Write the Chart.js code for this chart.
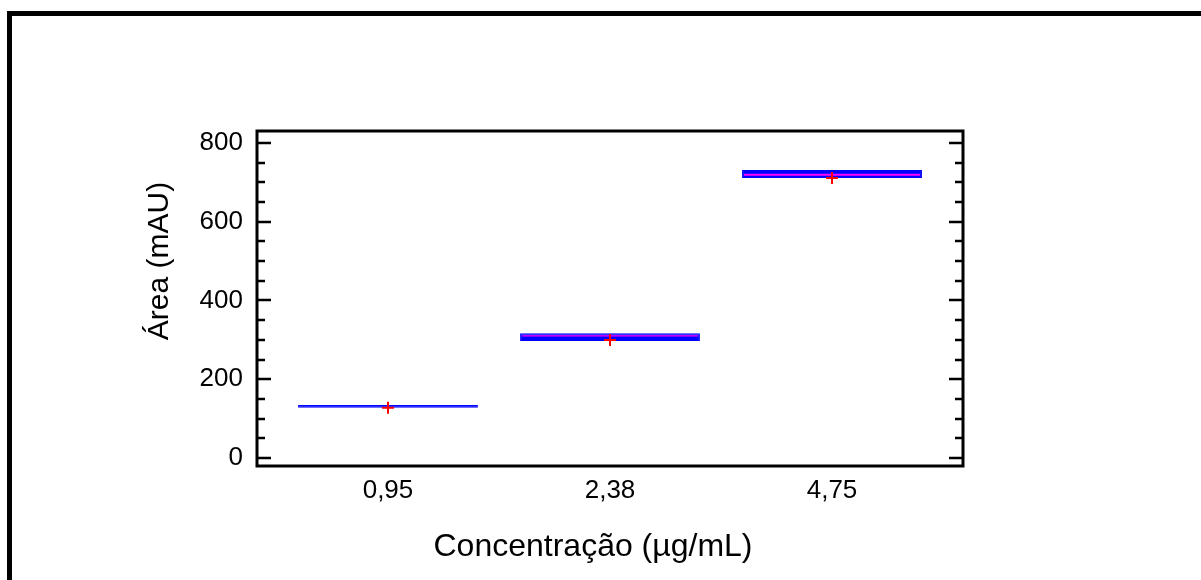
<!DOCTYPE html>
<html>
<head>
<meta charset="utf-8">
<script src="https://cdn.jsdelivr.net/npm/chart.js@4"></script>
<style>
  html, body { margin: 0; padding: 0; background: #fff; overflow: hidden; }
  #wrap { position: relative; width: 1201px; height: 580px; }
  #frame {
    position: absolute; left: 7px; top: 11px;
    width: 1400px; height: 800px;
    border: 5px solid #000; box-sizing: border-box;
  }
  canvas { position: absolute; left: 0; top: 0; }
</style>
</head>
<body>
<div id="wrap">
  <div id="frame"></div>
  <canvas id="chart" width="1201" height="580"></canvas>
</div>
<script>
/* ---------- data ---------- */
const categories = ["0,95", "2,38", "4,75"];
const boxLow    = [128, 297, 711];
const boxHigh   = [135, 317, 731];
const medians   = [132, 311, 719];
const means     = [128, 300, 711];
const yTicks    = [0, 200, 400, 600, 800];   // labelled ticks
const yMinor    = 50;                          // minor tick step
const xTitle    = "Concentração (µg/mL)";
const yTitle    = "Área (mAU)";

/* ---------- plugins ---------- */
// median lines, clipped to the inside of each box
const medianPlugin = {
  id: "medians",
  afterDatasetDraw(chart, args) {
    if (args.index !== 0) return;
    const ctx = chart.ctx;
    const y = chart.scales.y;
    const bw = 2;
    args.meta.data.forEach((bar, i) => {
      const top = Math.min(bar.y, bar.base) + bw;
      const bottom = Math.max(bar.y, bar.base) - bw;
      if (bottom <= top) return;
      const left = bar.x - bar.width / 2 + bw;
      const right = bar.x + bar.width / 2 - bw;
      const py = y.getPixelForValue(medians[i]);
      ctx.save();
      ctx.beginPath();
      ctx.rect(left, top, right - left, bottom - top);
      ctx.clip();
      ctx.strokeStyle = "#ff00ff";
      ctx.lineWidth = 2;
      ctx.beginPath();
      ctx.moveTo(left, py);
      ctx.lineTo(right, py);
      ctx.stroke();
      ctx.restore();
    });
  }
};

// plot frame, inward ticks on left and right, axis titles
const framePlugin = {
  id: "plotFrame",
  afterDraw(chart) {
    const ctx = chart.ctx;
    const a = chart.chartArea;
    const y = chart.scales.y;
    ctx.save();
    ctx.strokeStyle = "#000";
    ctx.lineWidth = 2.5;
    y.ticks.forEach(t => {
      const py = Math.round(y.getPixelForValue(t.value));
      const len = yTicks.includes(t.value) ? 14 : 8;
      ctx.beginPath();
      ctx.moveTo(a.left, py);
      ctx.lineTo(a.left + len, py);
      ctx.moveTo(a.right, py);
      ctx.lineTo(a.right - len, py);
      ctx.stroke();
    });
    ctx.lineWidth = 3;
    ctx.strokeRect(a.left, a.top, a.right - a.left, a.bottom - a.top);

    // titles (placed like the original, a bit left/up of the plot centre)
    ctx.fillStyle = "#000";
    ctx.textAlign = "center";
    ctx.textBaseline = "middle";
    ctx.font = "32px 'Liberation Sans', Arial, sans-serif";
    ctx.fillText(xTitle, 593, 547);
    ctx.translate(160, 261);
    ctx.rotate(-Math.PI / 2);
    ctx.font = "30px 'Liberation Sans', Arial, sans-serif";
    ctx.fillText(yTitle, 0, 0);
    ctx.restore();
  }
};

/* ---------- chart ---------- */
Chart.defaults.font.family = "'Liberation Sans', Arial, sans-serif";
Chart.defaults.color = "#000";

new Chart(document.getElementById("chart"), {
  type: "bar",
  data: {
    datasets: [
      {
        type: "bar",
        data: categories.map((c, i) => ({ x: i, y: [boxLow[i], boxHigh[i]] })),
        backgroundColor: "#0000ff",
        borderColor: "#0000ff",
        borderWidth: 1,
        borderSkipped: false,
        barPercentage: 0.81,
        categoryPercentage: 1,
        order: 1
      },
      {
        type: "line",
        data: categories.map((c, i) => ({ x: i, y: means[i] })),
        showLine: false,
        pointStyle: "cross",
        pointRadius: 6,
        pointBorderColor: "#ff0000",
        pointBorderWidth: 2,
        order: 0
      }
    ]
  },
  options: {
    responsive: false,
    animation: false,
    layout: { padding: { left: 0, right: 238, top: 131, bottom: 0 } },
    plugins: { legend: { display: false }, tooltip: { enabled: false } },
    scales: {
      x: {
        type: "linear",
        min: -0.59,
        max: 2.59,
        offset: false,
        grid: { display: false, drawTicks: false },
        border: { display: false },
        ticks: {
          autoSkip: false,
          maxRotation: 0,
          padding: 9,
          font: { size: 26 },
          callback: v => categories[v] ?? ""
        },
        afterBuildTicks: s => { s.ticks = categories.map((c, i) => ({ value: i })); },
        afterFit: s => { s.height = 114; }
      },
      y: {
        min: -20,
        max: 830,
        grid: { display: false, drawTicks: false },
        border: { display: false },
        ticks: {
          autoSkip: false,
          padding: 14,
          font: { size: 26 },
          callback: v => yTicks.includes(v) ? String(v) : ""
        },
        afterBuildTicks: s => {
          const t = [];
          for (let v = yTicks[0]; v <= yTicks[yTicks.length - 1]; v += yMinor) t.push({ value: v });
          s.ticks = t;
        },
        afterFit: s => { s.width = 257; }
      }
    }
  },
  plugins: [medianPlugin, framePlugin]
});
</script>
</body>
</html>
